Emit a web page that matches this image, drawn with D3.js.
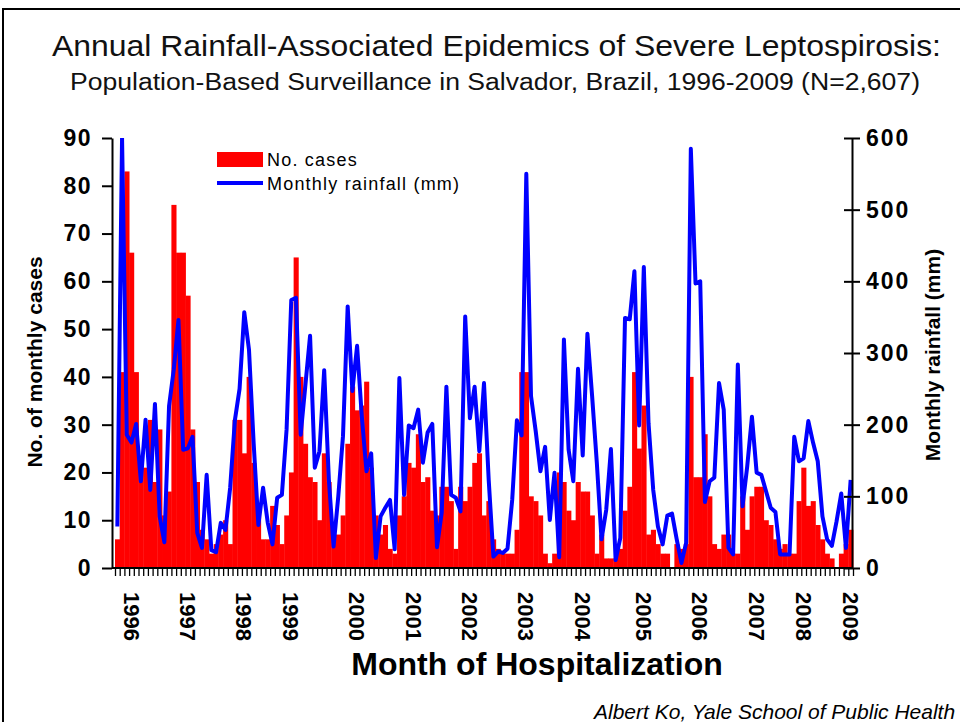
<!DOCTYPE html>
<html>
<head>
<meta charset="utf-8">
<script src="https://cdnjs.cloudflare.com/ajax/libs/d3/7.8.5/d3.min.js"></script>
<style>
body { margin: 0; background: #fff; }
svg { display: block; font-family: "Liberation Sans", Arial, sans-serif; }
</style>
</head>
<body>
<div id="chart"></div>
<script>
// monthly leptospirosis cases (bars)
const cases = [
  6,41,83,66,41,21,21,31,18,29,11,16,76,66,66,57,29,18,8,6,3,5,7,10,5,31,31,24,40,22,12,6,6,13,9,5,11,
  20,65,40,26,19,18,10,24,18,7,7,11,26,38,33,34,39,21,11,7,9,4,3,11,15,22,21,28,18,19,12,11,17,17,14,4,
  17,14,17,22,24,11,14,6,4,3,3,3,8,41,41,15,14,11,3,1,3,20,18,12,10,18,16,16,11,3,7,2,2,2,4,12,17,41,
  25,34,7,8,5,3,3,0,5,4,5,40,19,19,28,15,5,4,7,7,3,3,15,8,15,17,17,10,9,6,4,5,3,3,14,21,13,14,9,6,3,2,0,3,5,8
];
// monthly rainfall in mm (line)
const rainfall = [
  58,600,186,175,201,121,207,109,229,72,36,226,277,346,165,167,183,49,28,130,25,22,63,53,112,206,250,357,305,174,60,112,63,33,98,102,193,374,
  377,186,255,324,140,163,276,123,30,100,184,365,247,310,212,135,160,14,72,84,95,26,265,102,199,195,221,147,189,201,29,77,253,102,98,79,351,
  209,253,163,258,123,16,23,21,27,95,206,185,550,240,191,135,169,67,133,15,319,165,121,278,157,327,240,147,40,81,166,11,42,349,347,414,199,420,
  202,109,58,33,73,76,40,7,35,585,397,400,92,121,126,258,221,28,19,284,86,142,211,133,130,107,84,78,19,19,19,183,149,153,205,175,149,72,40,31,65,104,28,123
];
const years = ["1996","1997","1998","1999","2000","2001","2002","2003","2004","2005","2006","2007","2008","2009"];
// month index under which each year label sits
const yearMonth = [3,15,27,37,51,63,75,87,99,112,124,136,146,156];
const caseTicks = [0,10,20,30,40,50,60,70,80,90];
const rainTicks = [0,100,200,300,400,500,600];

const width = 960, height = 722;
const plot = { left: 112, right: 852, top: 138, bottom: 568 };

const svg = d3.select("#chart").append("svg")
  .attr("width", width)
  .attr("height", height);

// frame round the slide
svg.append("rect")
  .attr("x", 3).attr("y", 9)
  .attr("width", 970).attr("height", 730)
  .attr("fill", "none")
  .attr("stroke", "#000")
  .attr("stroke-width", 2);

// titles (stretched a little, like the slide)
svg.append("text")
  .attr("x", 52).attr("y", 56)
  .attr("font-size", "30px")
  .attr("textLength", 889)
  .attr("lengthAdjust", "spacingAndGlyphs")
  .attr("fill", "#111")
  .text("Annual Rainfall-Associated Epidemics of Severe Leptospirosis:");
svg.append("text")
  .attr("x", 70).attr("y", 90)
  .attr("font-size", "23px")
  .attr("textLength", 850)
  .attr("lengthAdjust", "spacingAndGlyphs")
  .attr("fill", "#111")
  .text("Population-Based Surveillance in Salvador, Brazil, 1996-2009 (N=2,607)");

// scales
const x = d3.scaleBand()
  .domain(d3.range(cases.length))
  .range([115, 853])
  .padding(0);
const xEdge = d3.scaleLinear()
  .domain([0, cases.length])
  .range([115, 853]);
const yCases = d3.scaleLinear().domain([0, 90]).range([plot.bottom, plot.top]);
const yRain = d3.scaleLinear().domain([0, 600]).range([plot.bottom, plot.top]);

// bars
svg.append("g")
  .selectAll("rect")
  .data(cases)
  .enter()
  .append("rect")
  .attr("x", (d, i) => x(i))
  .attr("y", d => yCases(d))
  .attr("width", x.bandwidth() + 0.4)
  .attr("height", d => yCases(0) - yCases(d))
  .attr("fill", "#ff0000");

// rainfall line, clipped at the top of the plot
svg.append("clipPath").attr("id", "clip")
  .append("rect")
  .attr("x", plot.left).attr("y", plot.top)
  .attr("width", plot.right - plot.left)
  .attr("height", plot.bottom - plot.top + 10);

svg.append("path")
  .datum(rainfall)
  .attr("clip-path", "url(#clip)")
  .attr("fill", "none")
  .attr("stroke", "#0000ff")
  .attr("stroke-width", 4)
  .attr("stroke-linejoin", "round")
  .attr("d", d3.line()
    .x((d, i) => x(i) + x.bandwidth() / 2)
    .y(d => yRain(d)));

// left axis
const axL = svg.append("g")
  .attr("transform", "translate(" + plot.left + ",0)")
  .call(d3.axisLeft(yCases).tickValues(caseTicks).tickSize(10).tickSizeOuter(0).tickPadding(10));
axL.selectAll("text")
  .attr("font-size", "23px")
  .attr("font-weight", "bold")
  .attr("letter-spacing", "1.5px")
  .attr("fill", "#000");

// right axis, ticks cross the line
const axR = svg.append("g")
  .attr("transform", "translate(" + plot.right + ",0)")
  .call(d3.axisRight(yRain).tickValues(rainTicks).tickSize(8).tickSizeOuter(0).tickPadding(6));
axR.selectAll(".tick line").attr("x1", -8);
axR.selectAll("text")
  .attr("font-size", "23px")
  .attr("font-weight", "bold")
  .attr("letter-spacing", "2px")
  .attr("fill", "#000");

// bottom axis: a tick per month
const axB = svg.append("g")
  .attr("transform", "translate(0," + plot.bottom + ")")
  .call(d3.axisBottom(xEdge).tickValues(d3.range(cases.length + 1)).tickSize(8).tickFormat(""));
axB.select(".domain").remove();
svg.append("line")
  .attr("x1", plot.left).attr("x2", plot.right)
  .attr("y1", plot.bottom).attr("y2", plot.bottom)
  .attr("stroke", "#000")
  .attr("stroke-width", 2);

svg.selectAll(".domain").attr("stroke-width", 2);
axL.selectAll(".tick line").attr("stroke-width", 2);
axR.selectAll(".tick line").attr("stroke-width", 2);
axB.selectAll(".tick line").attr("stroke-width", 1.3);

// year labels, turned on their side
svg.append("g")
  .selectAll("text")
  .data(years)
  .enter()
  .append("text")
  .attr("transform", (d, i) => "translate(" + (x(yearMonth[i]) + x.bandwidth() / 2) + ",592) rotate(90)")
  .attr("dy", "0.36em")
  .attr("font-size", "22px")
  .attr("font-weight", "bold")
  .text(d => d);

// axis titles
svg.append("text")
  .attr("transform", "translate(42,362) rotate(-90)")
  .attr("text-anchor", "middle")
  .attr("font-size", "21px")
  .attr("font-weight", "bold")
  .text("No. of monthly cases");
svg.append("text")
  .attr("transform", "translate(940,355) rotate(-90)")
  .attr("text-anchor", "middle")
  .attr("font-size", "21px")
  .attr("font-weight", "bold")
  .text("Monthly rainfall (mm)");
svg.append("text")
  .attr("x", 537).attr("y", 675)
  .attr("text-anchor", "middle")
  .attr("font-size", "32px")
  .attr("font-weight", "bold")
  .text("Month of Hospitalization");

// legend
const legend = svg.append("g").attr("transform", "translate(217,0)");
legend.append("rect")
  .attr("x", 0).attr("y", 152)
  .attr("width", 46).attr("height", 15)
  .attr("fill", "#ff0000");
legend.append("text")
  .attr("x", 50).attr("y", 166)
  .attr("font-size", "18px")
  .attr("letter-spacing", "1.2px")
  .text("No. cases");
legend.append("line")
  .attr("x1", 0).attr("x2", 46)
  .attr("y1", 183).attr("y2", 183)
  .attr("stroke", "#0000ff")
  .attr("stroke-width", 4);
legend.append("text")
  .attr("x", 50).attr("y", 190)
  .attr("font-size", "18px")
  .attr("letter-spacing", "1.2px")
  .text("Monthly rainfall (mm)");

// credit, at the bottom right
svg.append("text")
  .attr("x", 594).attr("y", 719)
  .attr("font-size", "21px")
  .attr("font-style", "italic")
  .text("Albert Ko, Yale School of Public Health");
</script>
</body>
</html>
